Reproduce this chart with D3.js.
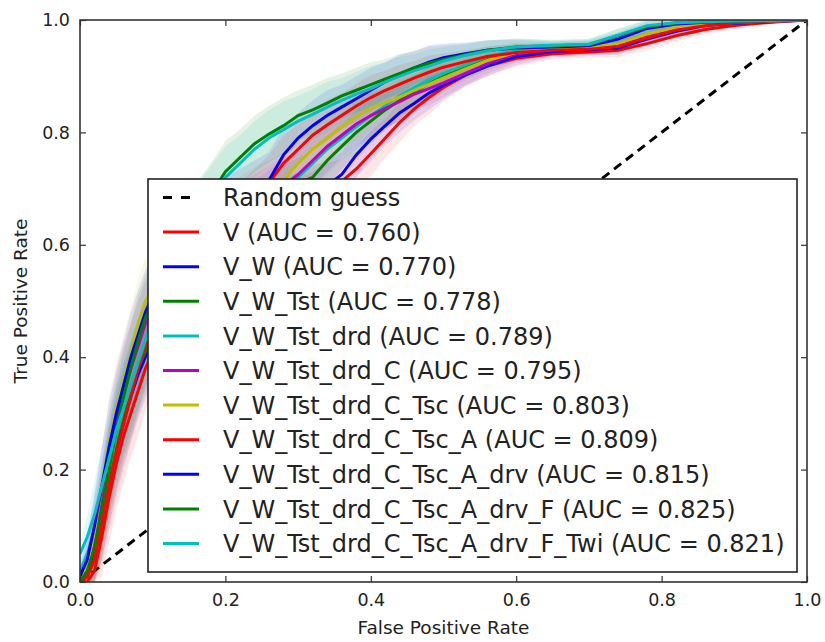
<!DOCTYPE html>
<html>
<head>
<meta charset="utf-8">
<script src="https://cdn.jsdelivr.net/npm/d3@7"></script>
<style>
body { margin: 0; background: #fff; }
text { font-family: "DejaVu Sans", sans-serif; fill: #222; }
</style>
</head>
<body>
<div id="chart"></div>
<script>
// shared false positive rate grid
var fpr = [0, 0.01, 0.02, 0.03, 0.04, 0.05, 0.06, 0.07, 0.08, 0.09, 0.10, 0.12, 0.14, 0.16, 0.18, 0.20, 0.22, 0.24, 0.26, 0.28, 0.30, 0.32, 0.34, 0.36, 0.38, 0.40, 0.42, 0.44, 0.46, 0.48, 0.50, 0.53, 0.56, 0.60, 0.65, 0.70, 0.74, 0.78, 0.82, 0.86, 0.90, 0.95, 1.00];

var tprV     = [0, 0, 0.02, 0.08, 0.15, 0.21, 0.26, 0.30, 0.34, 0.38, 0.41, 0.46, 0.50, 0.535, 0.565, 0.59, 0.61, 0.63, 0.645, 0.66, 0.675, 0.685, 0.70, 0.713, 0.735, 0.762, 0.79, 0.818, 0.842, 0.862, 0.88, 0.902, 0.918, 0.932, 0.94, 0.943, 0.946, 0.958, 0.972, 0.983, 0.99, 0.996, 1];
var tprW     = [0, 0.01, 0.05, 0.11, 0.18, 0.24, 0.29, 0.33, 0.37, 0.40, 0.43, 0.48, 0.52, 0.55, 0.58, 0.60, 0.62, 0.64, 0.655, 0.668, 0.685, 0.695, 0.705, 0.725, 0.76, 0.788, 0.812, 0.835, 0.852, 0.87, 0.884, 0.902, 0.918, 0.935, 0.944, 0.947, 0.95, 0.966, 0.98, 0.99, 0.994, 0.997, 1];
var tprTst   = [0, 0.01, 0.04, 0.11, 0.19, 0.25, 0.30, 0.34, 0.38, 0.41, 0.44, 0.49, 0.53, 0.565, 0.59, 0.615, 0.635, 0.655, 0.672, 0.69, 0.71, 0.72, 0.75, 0.775, 0.80, 0.82, 0.84, 0.857, 0.872, 0.887, 0.9, 0.915, 0.93, 0.942, 0.948, 0.95, 0.953, 0.97, 0.983, 0.99, 0.995, 0.998, 1];
var tprDrd   = [0.02, 0.05, 0.09, 0.14, 0.20, 0.26, 0.31, 0.35, 0.39, 0.42, 0.45, 0.50, 0.54, 0.575, 0.60, 0.625, 0.645, 0.665, 0.683, 0.70, 0.72, 0.745, 0.77, 0.79, 0.81, 0.83, 0.848, 0.865, 0.88, 0.893, 0.905, 0.92, 0.935, 0.945, 0.95, 0.952, 0.958, 0.975, 0.986, 0.992, 0.996, 0.998, 1];
var tprC     = [0, 0.02, 0.07, 0.14, 0.22, 0.29, 0.34, 0.38, 0.42, 0.46, 0.48, 0.52, 0.56, 0.59, 0.615, 0.64, 0.66, 0.675, 0.69, 0.705, 0.725, 0.75, 0.775, 0.795, 0.815, 0.83, 0.843, 0.855, 0.868, 0.878, 0.888, 0.905, 0.922, 0.94, 0.947, 0.95, 0.955, 0.972, 0.985, 0.991, 0.995, 0.998, 1];
var tprTsc   = [0, 0.03, 0.09, 0.17, 0.25, 0.31, 0.36, 0.41, 0.46, 0.50, 0.52, 0.555, 0.585, 0.61, 0.635, 0.655, 0.672, 0.688, 0.70, 0.715, 0.745, 0.77, 0.79, 0.81, 0.828, 0.843, 0.853, 0.863, 0.875, 0.886, 0.897, 0.913, 0.928, 0.942, 0.948, 0.951, 0.958, 0.975, 0.987, 0.993, 0.996, 0.998, 1];
var tprA     = [0, 0.01, 0.04, 0.10, 0.17, 0.23, 0.28, 0.33, 0.38, 0.42, 0.45, 0.50, 0.545, 0.58, 0.61, 0.635, 0.66, 0.685, 0.71, 0.745, 0.77, 0.795, 0.813, 0.83, 0.847, 0.862, 0.875, 0.886, 0.897, 0.907, 0.916, 0.926, 0.935, 0.942, 0.946, 0.948, 0.953, 0.968, 0.982, 0.99, 0.995, 0.998, 1];
var tprDrv   = [0.01, 0.04, 0.10, 0.17, 0.24, 0.30, 0.35, 0.40, 0.44, 0.48, 0.51, 0.55, 0.585, 0.615, 0.645, 0.665, 0.685, 0.70, 0.715, 0.76, 0.79, 0.812, 0.83, 0.845, 0.86, 0.875, 0.89, 0.903, 0.915, 0.925, 0.933, 0.94, 0.946, 0.95, 0.952, 0.954, 0.966, 0.985, 0.993, 0.996, 0.998, 0.999, 1];
var tprF     = [0, 0.02, 0.06, 0.13, 0.20, 0.27, 0.33, 0.38, 0.43, 0.47, 0.50, 0.56, 0.61, 0.65, 0.69, 0.73, 0.755, 0.78, 0.797, 0.812, 0.83, 0.84, 0.852, 0.865, 0.875, 0.885, 0.895, 0.905, 0.915, 0.923, 0.93, 0.938, 0.946, 0.952, 0.954, 0.956, 0.972, 0.988, 0.995, 0.997, 0.998, 0.999, 1];
var tprTwi   = [0.05, 0.08, 0.12, 0.17, 0.22, 0.27, 0.31, 0.35, 0.39, 0.43, 0.47, 0.54, 0.60, 0.645, 0.685, 0.72, 0.745, 0.77, 0.79, 0.805, 0.82, 0.832, 0.845, 0.857, 0.868, 0.878, 0.89, 0.9, 0.91, 0.918, 0.927, 0.937, 0.945, 0.952, 0.955, 0.957, 0.973, 0.99, 0.995, 0.997, 0.998, 0.999, 1];

// spread of the shaded band around each curve
var tprStd = [0.02, 0.04, 0.06, 0.07, 0.08, 0.08, 0.08, 0.08, 0.08, 0.075, 0.07, 0.065, 0.06, 0.06, 0.055, 0.055, 0.05, 0.05, 0.05, 0.05, 0.045, 0.045, 0.045, 0.04, 0.04, 0.04, 0.035, 0.035, 0.03, 0.03, 0.025, 0.02, 0.018, 0.015, 0.01, 0.01, 0.012, 0.012, 0.01, 0.008, 0.006, 0.004, 0];

var modelNames = ["V", "V_W", "V_W_Tst", "V_W_Tst_drd", "V_W_Tst_drd_C", "V_W_Tst_drd_C_Tsc", "V_W_Tst_drd_C_Tsc_A", "V_W_Tst_drd_C_Tsc_A_drv", "V_W_Tst_drd_C_Tsc_A_drv_F", "V_W_Tst_drd_C_Tsc_A_drv_F_Twi"];
var aucValues = [0.760, 0.770, 0.778, 0.789, 0.795, 0.803, 0.809, 0.815, 0.825, 0.821];
var tprSeries = [tprV, tprW, tprTst, tprDrd, tprC, tprTsc, tprA, tprDrv, tprF, tprTwi];
var colors = ["#ff0000", "#0000ff", "#008000", "#00bfbf", "#bf00bf", "#bfbf00", "#ff0000", "#0000ff", "#008000", "#00bfbf"];
var tickValues = [0, 0.2, 0.4, 0.6, 0.8, 1.0];

(function() {
var width = 825, height = 642;
var pLeft = 80, pRight = 807, pTop = 20, pBottom = 582;

var svg = d3.select("#chart").append("svg")
	.attr("width", width)
	.attr("height", height);

var x = d3.scaleLinear().domain([0, 1]).range([pLeft, pRight]);
var y = d3.scaleLinear().domain([0, 1]).range([pBottom, pTop]);

svg.append("clipPath").attr("id", "clip")
	.append("rect")
	.attr("x", pLeft).attr("y", pTop)
	.attr("width", pRight - pLeft).attr("height", pBottom - pTop);

var plot = svg.append("g").attr("clip-path", "url(#clip)");

var area = d3.area()
	.x(function(d) { return x(d.x); })
	.y0(function(d) { return y(Math.max(0, d.y - d.s)); })
	.y1(function(d) { return y(Math.min(1, d.y + d.s)); });

var line = d3.line()
	.x(function(d) { return x(d.x); })
	.y(function(d) { return y(d.y); });

var series = tprSeries.map(function(t) {
	return fpr.map(function(f, i) { return {x: f, y: t[i], s: tprStd[i]}; });
});

// bands
series.forEach(function(pts, k) {
	plot.append("path")
		.attr("d", area(pts))
		.attr("fill", colors[k])
		.attr("fill-opacity", 0.1);
});

// random guess
plot.append("line")
	.attr("x1", x(0)).attr("y1", y(0))
	.attr("x2", x(1)).attr("y2", y(1))
	.attr("stroke", "black")
	.attr("stroke-width", 3)
	.attr("stroke-dasharray", "9,6");

// curves
series.forEach(function(pts, k) {
	plot.append("path")
		.attr("d", line(pts))
		.attr("fill", "none")
		.attr("stroke", colors[k])
		.attr("stroke-width", 3);
});

// axes, ticks pointing inwards
var fmt = d3.format(".1f");
svg.append("g").attr("transform", "translate(0," + pBottom + ")")
	.call(d3.axisBottom(x).tickValues(tickValues).tickFormat(fmt).tickSize(-6).tickPadding(12));
svg.append("g").attr("transform", "translate(0," + pTop + ")")
	.call(d3.axisTop(x).tickValues(tickValues).tickFormat("").tickSize(-6));
svg.append("g").attr("transform", "translate(" + pLeft + ",0)")
	.call(d3.axisLeft(y).tickValues(tickValues).tickFormat(fmt).tickSize(-6).tickPadding(10));
svg.append("g").attr("transform", "translate(" + pRight + ",0)")
	.call(d3.axisRight(y).tickValues(tickValues).tickFormat("").tickSize(-6));

svg.selectAll(".domain").remove();
svg.selectAll(".tick line").attr("stroke", "#333").attr("stroke-width", 1.2);
svg.selectAll(".tick text")
	.style("font-family", "DejaVu Sans")
	.style("font-size", "17.5px")
	.attr("fill", "#222");

svg.append("rect")
	.attr("x", pLeft).attr("y", pTop)
	.attr("width", pRight - pLeft).attr("height", pBottom - pTop)
	.attr("fill", "none")
	.attr("stroke", "#333")
	.attr("stroke-width", 1.6);

svg.append("text")
	.attr("x", (pLeft + pRight) / 2).attr("y", 634)
	.attr("text-anchor", "middle")
	.style("font-size", "18.5px")
	.text("False Positive Rate");

svg.append("text")
	.attr("transform", "translate(27," + (pTop + pBottom) / 2 + ") rotate(-90)")
	.attr("text-anchor", "middle")
	.style("font-size", "18.5px")
	.text("True Positive Rate");

// legend
var legend = svg.append("g");
legend.append("rect")
	.attr("x", 148).attr("y", 179)
	.attr("width", 649).attr("height", 393)
	.attr("fill", "white")
	.attr("stroke", "#222")
	.attr("stroke-width", 1.6);

var rowY = function(i) { return 197.5 + i * 34.6; };

legend.append("line")
	.attr("x1", 163).attr("x2", 199)
	.attr("y1", rowY(0)).attr("y2", rowY(0))
	.attr("stroke", "black").attr("stroke-width", 3)
	.attr("stroke-dasharray", "9,9");
legend.append("text")
	.attr("x", 223).attr("y", rowY(0))
	.attr("dy", "0.36em")
	.style("font-size", "24px")
	.text("Random guess");

modelNames.forEach(function(name, k) {
	var yy = rowY(k + 1);
	legend.append("line")
		.attr("x1", 163).attr("x2", 199)
		.attr("y1", yy).attr("y2", yy)
		.attr("stroke", colors[k]).attr("stroke-width", 3);
	legend.append("text")
		.attr("x", 223).attr("y", yy)
		.attr("dy", "0.36em")
		.style("font-size", "24px")
		.text(name + " (AUC = " + d3.format(".3f")(aucValues[k]) + ")");
});
})();
</script>
</body>
</html>
